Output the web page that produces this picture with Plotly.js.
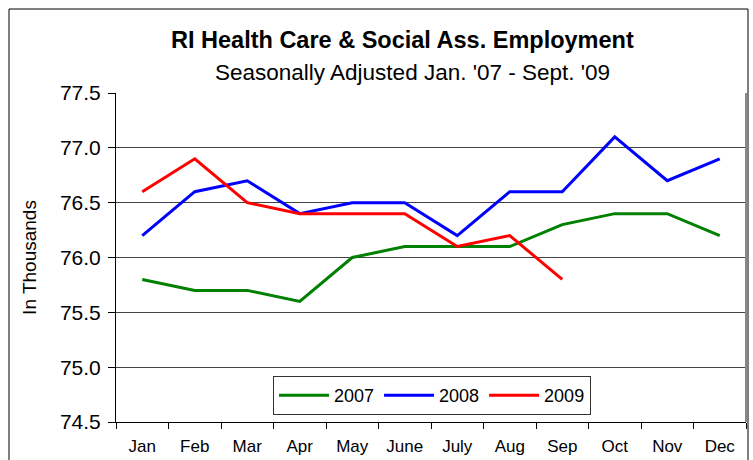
<!DOCTYPE html>
<html>
<head>
<meta charset="utf-8">
<script src="https://cdn.plot.ly/plotly-3.0.1.min.js"></script>
<style>html,body{margin:0;padding:0;background:#fff;}#chart{width:753px;height:460px;}</style>
</head>
<body>
<div id="chart"></div>
<script>
const months = ["Jan","Feb","Mar","Apr","May","June","July","Aug","Sep","Oct","Nov","Dec"];
const y2007 = [75.8,75.7,75.7,75.6,76.0,76.1,76.1,76.1,76.3,76.4,76.4,76.2];
const y2008 = [76.2,76.6,76.7,76.4,76.5,76.5,76.2,76.6,76.6,77.1,76.7,76.9];
const y2009 = [76.6,76.9,76.5,76.4,76.4,76.4,76.1,76.2,75.8];
const seriesNames = ["2007","2008","2009"];
const yTicks = [74.5,75.0,75.5,76.0,76.5,77.0,77.5];

const colors = ["#008000","#0000FF","#FF0000"];
const data = [y2007,y2008,y2009].map((ys,i)=>({
  type:"scatter", mode:"lines", name:seriesNames[i],
  x: months.slice(0, ys.length), y: ys,
  line:{color:colors[i], width:3}
}));

const L=116, R=746, T=93, B=422, W=R-L, H=B-T;
const px = v => (v-L)/W;
const py = v => (B-v)/H;

const layout = {
  width:753, height:460,
  margin:{l:L, r:753-R, t:T, b:460-B},
  paper_bgcolor:"#fff", plot_bgcolor:"#fff",
  font:{family:"Liberation Sans, Arial, sans-serif", color:"#000"},
  showlegend:true,
  legend:{orientation:"h", x:px(273), y:py(415), xanchor:"left", yanchor:"bottom",
    bordercolor:"#333", borderwidth:1, bgcolor:"#fff",
    font:{size:18, family:"Liberation Sans, Arial, sans-serif"}, itemwidth:50, tracegroupgap:0},
  xaxis:{type:"category", categoryorder:"array", categoryarray:months,
    range:[-0.5,11.5], tickson:"boundaries", ticks:"outside", ticklen:6, tickcolor:"#000",
    showline:true, linecolor:"#000", linewidth:1, showgrid:false, zeroline:false,
    tickfont:{size:17}, ticklabelstandoff:9, fixedrange:true},
  yaxis:{range:[74.5,77.5], tickvals:yTicks, ticktext:yTicks.map(v=>v.toFixed(1)),
    ticks:"outside", ticklen:7, tickcolor:"#000", showline:true, linecolor:"#000", linewidth:1,
    showgrid:true, gridcolor:"#444", gridwidth:1, zeroline:false,
    tickfont:{size:21}, ticklabelstandoff:3,
    title:{text:"In Thousands", font:{size:19}, standoff:18}},
  annotations:[
    {text:"<b>RI Health Care & Social Ass. Employment</b>", xref:"paper", yref:"paper",
     x:px(402), y:py(40), xanchor:"center", yanchor:"middle", showarrow:false,
     font:{size:23.5}},
    {text:"Seasonally Adjusted Jan. '07 - Sept. '09", xref:"paper", yref:"paper",
     x:px(412), y:py(72), xanchor:"center", yanchor:"middle", showarrow:false,
     font:{size:22.5}}
  ],
  shapes:[
    {type:"rect", xref:"paper", yref:"paper", x0:px(9), x1:px(748), y0:py(475), y1:py(9),
     line:{color:"#000", width:1}, fillcolor:"rgba(0,0,0,0)", layer:"below"},
    {type:"line", xref:"paper", yref:"paper", x0:1, x1:1, y0:0, y1:1,
     line:{color:"#888", width:2}}
  ]
};
Plotly.newPlot("chart", data, layout, {displayModeBar:false, staticPlot:true});
</script>
</body>
</html>
